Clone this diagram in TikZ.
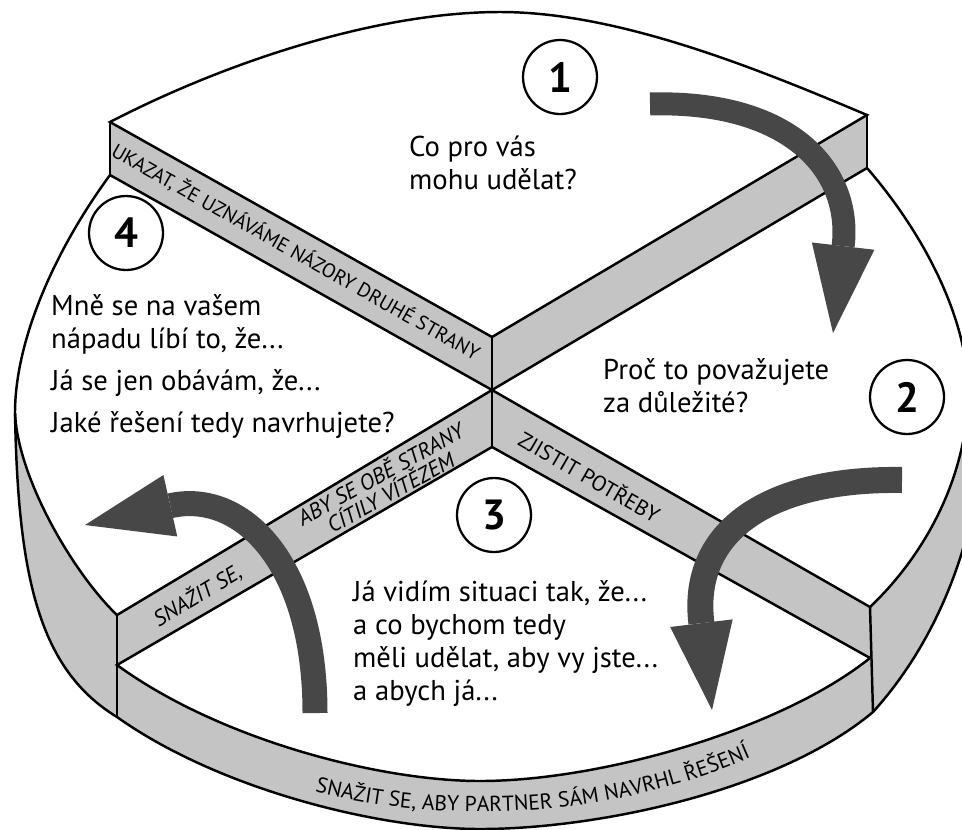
\documentclass[tikz,border=0pt]{standalone}
\usepackage{fontspec}
\setmainfont{PT Sans}
\usepackage{tikz}
\usetikzlibrary{arrows.meta, decorations.text}

\begin{document}
\begin{tikzpicture}[x=0.02cm, y=-0.02cm, line width=1.4pt,
    wallfill/.style={fill=black!23},
    face/.style={fill=white, draw=black},
    numcirc/.style={draw, circle, line width=1.3pt, minimum size=1.48cm, inner sep=0pt, font=\fontsize{24}{24}\selectfont\bfseries},
    phrase/.style={anchor=base west, align=left, inner sep=0pt, font=\fontsize{16.3}{18.6}\selectfont},
    walltext/.style={inner sep=0pt, font=\fontsize{11.4}{11.4}\selectfont},
    bigarrow/.style={draw=black!72, -{Triangle[length=1.75cm, width=1.26cm, line width=0pt]}}
]
    \useasboundingbox (0,0) rectangle (962,829);
    \clip (0,0) rectangle (962,829);

    % Corner points of the four levels
    \coordinate (A3) at (110,122);  \coordinate (A2) at (110,175);
    \coordinate (B3) at (867,115);  \coordinate (B2) at (867,168);
    \coordinate (C3) at (492,337);  \coordinate (C2) at (492,390);  \coordinate (C1) at (492,447);
    \coordinate (D2) at (870,607);  \coordinate (D1) at (870,658);  \coordinate (D0) at (873,712);
    \coordinate (E2) at (117,615);  \coordinate (E1) at (117,665);  \coordinate (E0) at (117,717);
    \coordinate (L) at (15,413);

    % Shaded body (walls and rim)
    \fill[wallfill] (A3) .. controls (230,60) and (380,12) .. (500,12) .. controls (620,12) and (760,70) .. (B3)
        -- (B2) .. controls (925,235) and (968,320) .. (968,392) -- (980,470)
        .. controls (965,580) and (920,660) .. (D0)
        .. controls (780,790) and (600,829) .. (480,829) .. controls (380,829) and (220,790) .. (E0)
        .. controls (40,670) and (18,580) .. (L) .. controls (15,340) and (55,250) .. (A2) -- cycle;

    % Top faces of the quarters
    \filldraw[face] (A3) .. controls (230,60) and (380,12) .. (500,12) .. controls (620,12) and (760,70) .. (B3) -- (C3) -- cycle;
    \filldraw[face] (B2) .. controls (925,235) and (968,320) .. (968,392) .. controls (968,470) and (930,550) .. (D2) -- (C2) -- cycle;
    \filldraw[face] (E1) .. controls (220,740) and (380,781) .. (480,781) .. controls (600,781) and (780,730) .. (D1) -- (C1) -- cycle;
    \filldraw[face] (A2) -- (C2) -- (E2) .. controls (75,575) and (18,480) .. (L) .. controls (15,340) and (55,250) .. (A2);

    % Vertical edges and bottom outline
    \draw (A3) -- (A2);
    \draw (B3) -- (B2);
    \draw (C3) -- (C1);
    \draw (D2) -- (D0);
    \draw (E2) -- (E0);
    \draw (L) .. controls (18,580) and (40,670) .. (E0) .. controls (220,790) and (380,829) .. (480,829)
        .. controls (600,829) and (780,790) .. (D0) .. controls (920,660) and (965,580) .. (980,470);

    % Labels on the walls
    \node[walltext, rotate=-29.4] (ukazat) at (296,252) {UKAZAT, ŽE UZNÁVÁME NÁZORY DRUHÉ STRANY};
    \node[walltext, rotate=-29.9, font=\fontsize{12.3}{12.3}\selectfont] (zjistit) at (590,476) {ZJISTIT POTŘEBY};
    \node[walltext, rotate=31, font=\fontsize{12.5}{12.5}\selectfont\itshape] (snazit) at (197,595) {SNAŽIT SE,};
    \node[walltext, rotate=29, align=center, font=\fontsize{12.5}{10.5}\selectfont\itshape] (obe) at (385,482) {ABY SE OBĚ STRANY\\CÍTILY VÍTĚZEM};
    \coordinate (bandL) at (230,762);
    \coordinate (bandR) at (830,715);
    \path[decorate, decoration={text along path, text align=center,
        text={|\fontsize{12.3}{12.3}\selectfont|SNAŽIT SE{,} ABY PARTNER SÁM NAVRHL ŘEŠENÍ}}]
        (bandL) .. controls (380,832) and (640,838) .. (bandR);

    % Numbered steps
    \node[numcirc] (n1) at (560,77) {1};
    \node[numcirc] (n2) at (907,397) {2};
    \node[numcirc] (n3) at (494,515) {3};
    \node[numcirc] (n4) at (126,233) {4};

    % Questions (placed by the baseline of their last line)
    \node[phrase] (ask1) at (408,189) {Co pro vás\\mohu udělat?};
    \node[phrase] (ask2) at (602,412) {Proč to považujete\\za důležité?};
    \node[phrase] (ask3) at (352,700) {Já vidím situaci tak, že...\\a co bychom tedy\\měli udělat, aby vy jste...\\a abych já...};
    \node[phrase] (ask4) at (50,432) {Mně se na vašem\\nápadu líbí to, že...\\[5.2pt]Já se jen obávám, že...\\[5.2pt]Jaké řešení tedy navrhujete?};

    % Big arrows
    \coordinate (arr1s) at (650,104);  \coordinate (arr1e) at (833,333);
    \coordinate (arr2s) at (902,480);  \coordinate (arr2e) at (712,710);
    \coordinate (arr3s) at (315,713);  \coordinate (arr3e) at (85,525);
    \draw[bigarrow, line width=0.46cm] (arr1s) .. controls (790,100) and (852,170) .. (arr1e);
    \draw[bigarrow, line width=0.52cm] (arr2s) .. controls (770,478) and (690,530) .. (arr2e);
    \draw[bigarrow, line width=0.50cm] (arr3s) .. controls (315,560) and (240,490) .. (arr3e);

\end{tikzpicture}
\end{document}
